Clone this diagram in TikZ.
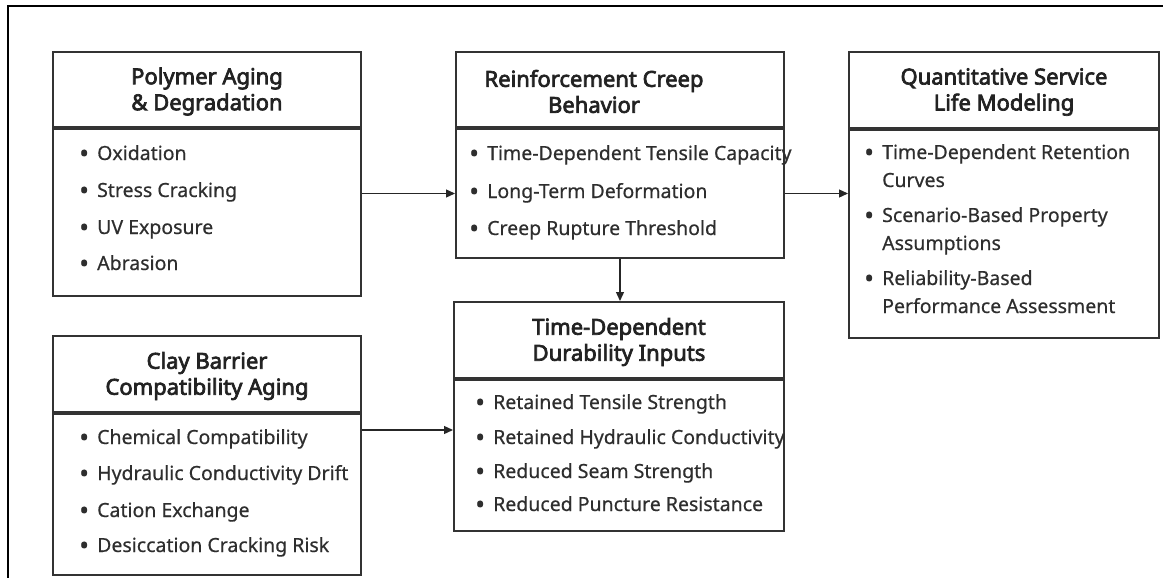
\documentclass[tikz,border=0pt]{standalone}
\usepackage{fontspec}
\setmainfont{Noto Sans}
\newfontfamily\titlefont{Noto Sans}[FakeBold=3.2]
\newfontfamily\itemfont{Noto Sans}[FakeBold=0.5]
\usetikzlibrary{arrows.meta}
\definecolor{edge}{HTML}{333333}
\definecolor{ink}{HTML}{222222}
\definecolor{itemink}{HTML}{2E2E2E}
\newcommand{\bul}{\makebox[18pt][l]{\raisebox{-2.6pt}{\scalebox{1.35}{•}}}}
\newcommand{\hang}{\hspace*{18pt}}
\begin{document}
\begin{tikzpicture}[x=1pt,y=-1pt,
  head/.style={draw=edge, line width=2pt, anchor=north west, inner sep=0pt, minimum height=75pt},
  body/.style={draw=edge, line width=2pt, anchor=north west, inner sep=0pt},
  title/.style={font=\titlefont\fontsize{22}{26}\selectfont, text=ink, align=center, inner sep=0pt, yshift=-2pt},
  itm/.style={font=\itemfont\fontsize{19.5}{28}\selectfont, text=itemink, anchor=base west, align=left, inner sep=0pt},
  arr/.style={draw=black!85, line width=1.3pt, -{Triangle[length=9pt,width=8pt]}}]

\path[use as bounding box] (0,0) rectangle (1163,578);

% outer frame (top and left edges)
\coordinate (fbl) at (8,578);
\coordinate (ftl) at (8,6);
\coordinate (ftr) at (1163,6);
\draw[line width=2pt, black] (fbl) -- (ftl) -- (ftr);

% Polymer aging
\node[head, minimum width=308pt] (b1head) at (52,51) {};
\node[body, minimum width=308pt, minimum height=167pt] (b1body) at (b1head.south west) {};
\node[title] (b1title) at (b1head.center) {Polymer Aging\\\& Degradation};
\node[itm] (b1i1) at (79,160) {\bul Oxidation};
\node[itm] (b1i2) at (79,197) {\bul Stress Cracking};
\node[itm] (b1i3) at (79,234) {\bul UV Exposure};
\node[itm] (b1i4) at (79,270) {\bul Abrasion};

% Reinforcement creep
\node[head, minimum width=328pt] (b2head) at (455,51) {};
\node[body, minimum width=328pt, minimum height=129pt] (b2body) at (b2head.south west) {};
\node[title, xshift=-26pt] (b2title) at (b2head.center) {Reinforcement Creep\\Behavior};
\node[itm] (b2i1) at (469,160) {\bul Time-Dependent Tensile Capacity};
\node[itm] (b2i2) at (469,198) {\bul Long-Term Deformation};
\node[itm] (b2i3) at (469,235) {\bul Creep Rupture Threshold};

% Service life modeling (two-line items sit on their last baseline)
\node[head, minimum width=310pt, minimum height=76pt] (b3head) at (848,51) {};
\node[body, minimum width=310pt, minimum height=208pt] (b3body) at (b3head.south west) {};
\node[title] (b3title) at (b3head.center) {Quantitative Service\\Life Modeling};
\node[itm] (b3i1) at (864,187) {\bul Time-Dependent Retention\\\hang Curves};
\node[itm] (b3i2) at (864,250) {\bul Scenario-Based Property\\\hang Assumptions};
\node[itm] (b3i3) at (864,313) {\bul Reliability-Based\\\hang Performance Assessment};

% Clay barrier aging
\node[head, minimum width=308pt, minimum height=76pt] (b4head) at (52,335) {};
\node[body, minimum width=308pt, minimum height=161pt] (b4body) at (b4head.south west) {};
\node[title] (b4title) at (b4head.center) {Clay Barrier\\Compatibility Aging};
\node[itm] (b4i1) at (79,444) {\bul Chemical Compatibility};
\node[itm] (b4i2) at (79,480) {\bul Hydraulic Conductivity Drift};
\node[itm] (b4i3) at (79,517) {\bul Cation Exchange};
\node[itm] (b4i4) at (79,552) {\bul Desiccation Cracking Risk};

% Durability inputs
\node[head, minimum width=330pt, minimum height=76pt] (b5head) at (453,301) {};
\node[body, minimum width=330pt, minimum height=151pt] (b5body) at (b5head.south west) {};
\node[title] (b5title) at (b5head.center) {Time-Dependent\\Durability Inputs};
\node[itm] (b5i1) at (475,409) {\bul Retained Tensile Strength};
\node[itm] (b5i2) at (475,444) {\bul Retained Hydraulic Conductivity};
\node[itm] (b5i3) at (475,478) {\bul Reduced Seam Strength};
\node[itm] (b5i4) at (475,511) {\bul Reduced Puncture Resistance};

% connectors
\coordinate (clayrow) at (360,430);
\draw[arr] (b1body.east |- b2body.west) -- (b2body.west);
\draw[arr] (b2body.east) -- (b2body.east -| b3body.west);
\draw[arr] (b2body.south) -- (b2body.south |- b5head.north);
\draw[arr] (b4body.east |- clayrow) -- (b5body.west |- clayrow);
\end{tikzpicture}
\end{document}
